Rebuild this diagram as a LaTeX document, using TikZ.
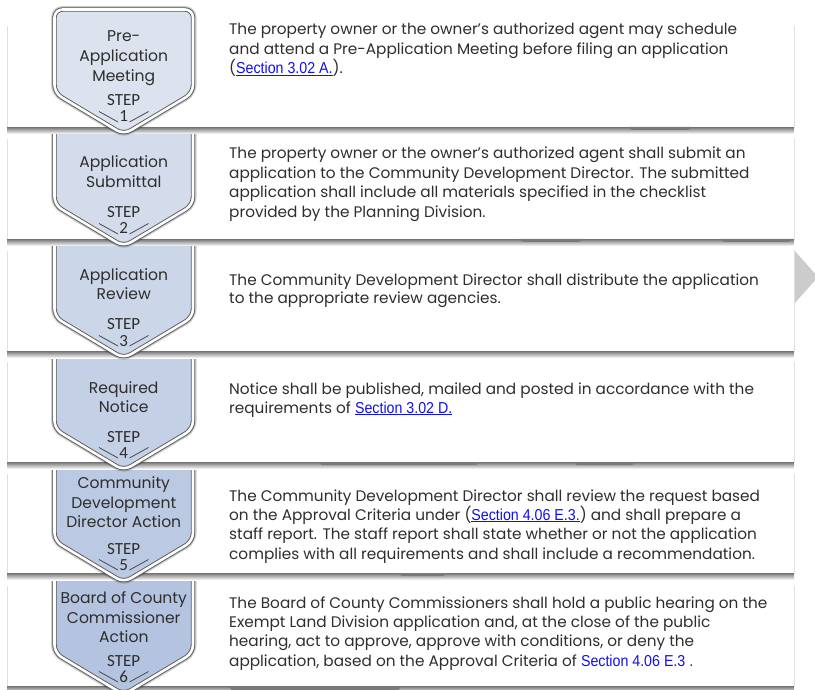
\documentclass[tikz,border=0pt]{standalone}
\usepackage{fontspec}
\setmainfont{Poppins}
\newfontfamily\stepf{Carlito}
\newfontfamily\linkf{Liberation Sans}
\definecolor{txt}{HTML}{2E2E2E}
\definecolor{lnk}{HTML}{1010F0}
\definecolor{chevline}{HTML}{585858}
\definecolor{vline}{HTML}{4A4A4A}
\definecolor{Ca}{HTML}{DCE3EF}
\definecolor{Cb}{HTML}{D4DCEC}
\definecolor{Cc}{HTML}{CCD6E9}
\definecolor{Cd}{HTML}{C4D0E6}
\definecolor{Ce}{HTML}{BBC9E2}
\definecolor{Cf}{HTML}{B4C3DF}
\newcommand{\lk}[1]{\scalebox{0.9}[1]{\linkf\fontsize{15.8}{17}\selectfont\color{lnk}\underline{#1}}}
\newcommand{\lkn}[1]{\scalebox{0.9}[1]{\linkf\fontsize{15.8}{17}\selectfont\color{lnk}#1}}
\begin{document}
\begin{tikzpicture}[x=1pt,y=-1pt,
  body/.style={anchor=base west, inner sep=0pt, font=\fontsize{15.3}{18}\selectfont, text=txt},
  ctext/.style={anchor=base, inner sep=0pt, font=\fontsize{15.6}{18}\selectfont, text=txt},
  steptext/.style={anchor=base, inner sep=0pt, font=\stepf\fontsize{17}{20}\selectfont, text=txt},
  chevglow/.style={draw=black, opacity=0.2, line width=7pt, rounded corners=8pt},
  chevbody/.style={draw=chevline, double=white, double distance=2.6pt, line width=0.9pt, rounded corners=8pt},
  rowbox/.style={fill=white},
  rowshadow/.style={top color=black!55, bottom color=white},
  darkbit/.style={fill=black!52},
  vdeco/.style={draw=vline, line width=0.8pt}]
\useasboundingbox (0,0) rectangle (815,690);
% grey arrow at the right edge
\fill[black!20] (794,250) -- (818,277) -- (794,304) -- cycle;
\foreach \k/\top/\bot/\col [evaluate=\k as \d using 112*(\k-1)] in
  {6/582/686/Cf, 5/470/573/Ce, 4/358/462/Cd, 3/247/351/Cc, 2/135/239/Cb, 1/22/127/Ca} {
  \shade[rowshadow] (7,\bot) rectangle (794,\bot+7);
  \fill[rowbox] (7,\top) rectangle (794,\bot);
  \draw[black!12] (7,\top+4) -- (7,\bot) (794,\top+4) -- (794,\bot);
  \path[chevglow] (54.5,9.5+\d) -- (193,9.5+\d) -- (193,93+\d) -- (123.75,134.5+\d) -- (54.5,93+\d) -- cycle;
  \path[chevbody, fill=\col] (54.5,9.5+\d) -- (193,9.5+\d) -- (193,93+\d) -- (123.75,134.5+\d) -- (54.5,93+\d) -- cycle;
  \draw[vdeco] (99,111.5+\d) -- (118,122+\d) (129.5,122+\d) -- (148.5,111.5+\d);
}
% darker fragments in the row shadows
\fill[darkbit] (628,127) -- (692,127) -- (688,130) -- (632,130) -- cycle;
\fill[darkbit] (519,239) -- (583,239) -- (579,242) -- (523,242) -- cycle;
\fill[darkbit] (720,239) -- (793,239) -- (789,242) -- (724,242) -- cycle;
\fill[darkbit] (318,462) -- (480,462) -- (476,465) -- (322,465) -- cycle;
\fill[darkbit] (573,462) -- (636,462) -- (632,465) -- (577,465) -- cycle;
\fill[darkbit] (398,573) -- (447,573) -- (443,576) -- (402,576) -- cycle;
\fill[darkbit] (228,686) -- (402,686) -- (398,690) -- (232,690) -- cycle;
% chevron labels
\node[ctext] (c1a) at (123.75,42) {Pre-};
\node[ctext] (c1b) at (123.75,62) {Application};
\node[ctext] (c1c) at (123.75,82) {Meeting};
\node[ctext] (c2a) at (123.75,168) {Application};
\node[ctext] (c2b) at (123.75,188) {Submittal};
\node[ctext] (c3a) at (123.75,280) {Application};
\node[ctext] (c3b) at (123.75,299) {Review};
\node[ctext] (c4a) at (123.75,393) {Required};
\node[ctext] (c4b) at (123.75,412) {Notice};
\node[ctext] (c5a) at (123.75,488) {Community};
\node[ctext] (c5b) at (123.75,508) {Development};
\node[ctext] (c5c) at (123.75,527) {Director Action};
\node[ctext] (c6a) at (123.75,603) {Board of County};
\node[ctext] (c6b) at (123.75,623) {Commissioner};
\node[ctext] (c6c) at (123.75,642) {Action};
\foreach \k in {1,...,6} {
  \node[steptext] (s\k) at (123.75,106+112*\k-112) {STEP};
  \node[steptext] (n\k) at (123.75,122+112*\k-112) {\k};
}
% row texts
\node[body] (r1a) at (229,35) {The property owner or the owner’s authorized agent may schedule};
\node[body] (r1b) at (229,54.5) {and attend a Pre-Application Meeting before filing an application};
\node[body] (r1c) at (229,74) {(\lk{Section 3.02 A.}).};
\node[body] (r2a) at (229,159) {The property owner or the owner’s authorized agent shall submit an};
\node[body] (r2b) at (229,178.5) {application to the Community Development Director. The submitted};
\node[body] (r2c) at (229,198) {application shall include all materials specified in the checklist};
\node[body] (r2d) at (229,217.5) {provided by the Planning Division.};
\node[body] (r3a) at (229,285) {The Community Development Director shall distribute the application};
\node[body] (r3b) at (229,304) {to the appropriate review agencies.};
\node[body] (r4a) at (229,394) {Notice shall be published, mailed and posted in accordance with the};
\node[body] (r4b) at (229,413) {requirements of \lk{Section 3.02 D.}};
\node[body] (r5a) at (229,501) {The Community Development Director shall review the request based};
\node[body] (r5b) at (229,520) {on the Approval Criteria under (\lk{Section 4.06 E.3.}) and shall prepare a};
\node[body] (r5c) at (229,539.5) {staff report. The staff report shall state whether or not the application};
\node[body] (r5d) at (229,559) {complies with all requirements and shall include a recommendation.};
\node[body] (r6a) at (229,608) {The Board of County Commissioners shall hold a public hearing on the};
\node[body] (r6b) at (229,627) {Exempt Land Division application and, at the close of the public};
\node[body] (r6c) at (229,646.5) {hearing, act to approve, approve with conditions, or deny the};
\node[body] (r6d) at (229,666) {application, based on the Approval Criteria of \lkn{Section 4.06 E.3 .}};
\end{tikzpicture}
\end{document}
